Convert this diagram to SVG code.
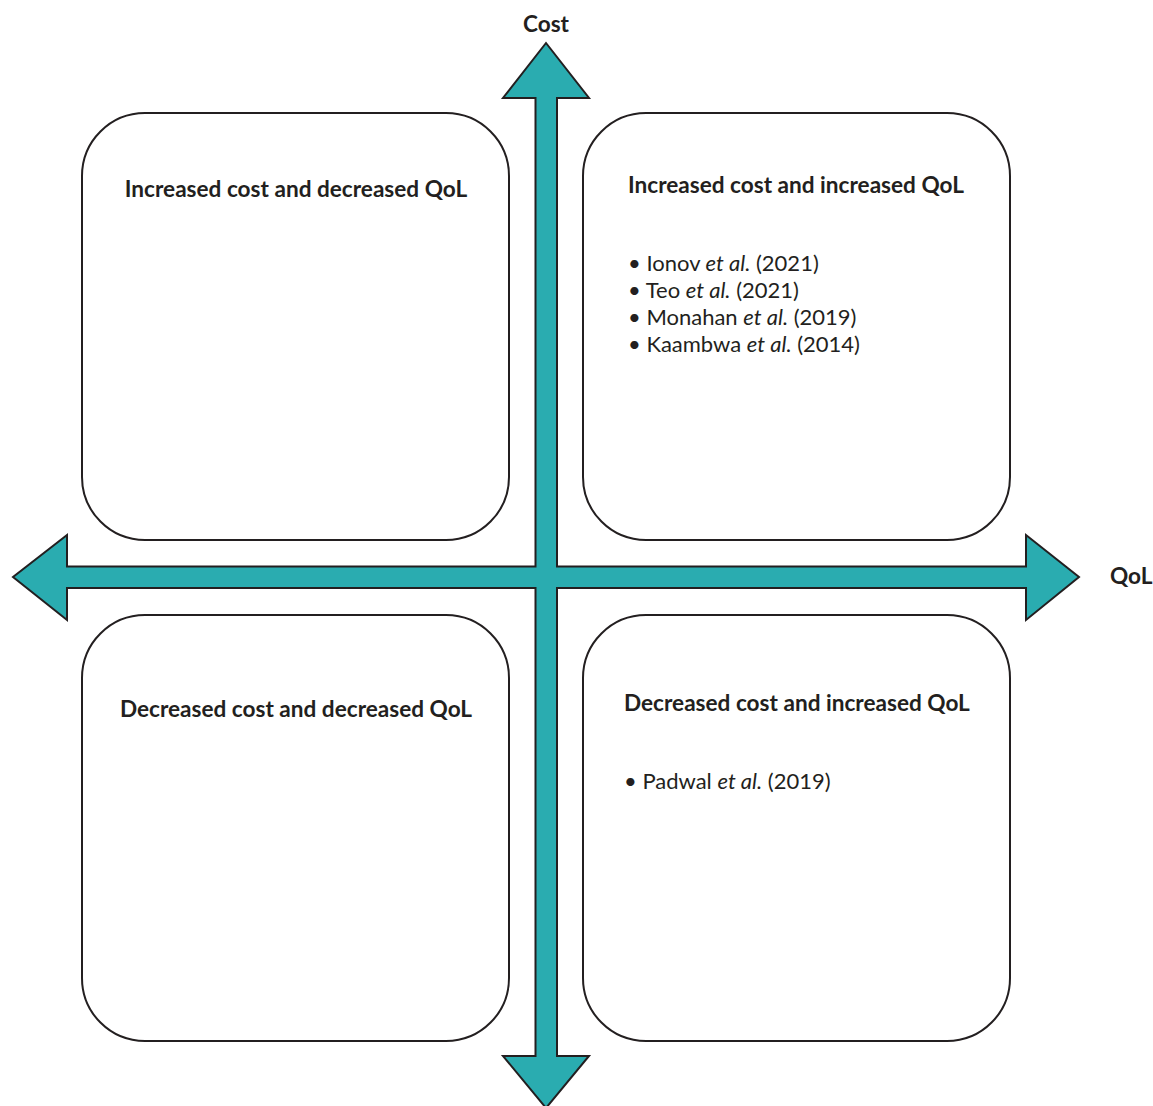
<svg xmlns="http://www.w3.org/2000/svg" width="1153" height="1106" viewBox="0 0 1153 1106">
<style>
.box{fill:#fff;stroke:#231f20;stroke-width:2}
.t{font-family:Lato,"Open Sans","Liberation Sans",sans-serif;fill:#231f20}
.b{font-weight:bold;font-size:22.6px}
.r{font-size:22px}
</style>
<rect width="1153" height="1106" fill="#fff"/>
<g id="box-tl"><rect class="box" x="82" y="113" width="427" height="427" rx="63"/>
<text class="t b" x="296" y="197" text-anchor="middle">Increased cost and decreased QoL</text></g>
<g id="box-tr"><rect class="box" x="583" y="113" width="427" height="427" rx="63"/>
<text class="t b" x="628" y="193">Increased cost and increased QoL</text>
<text class="t r" x="628" y="271">• Ionov <tspan font-style="italic">et al.</tspan> (2021)</text>
<text class="t r" x="628" y="298">• Teo <tspan font-style="italic">et al.</tspan> (2021)</text>
<text class="t r" x="628" y="325">• Monahan <tspan font-style="italic">et al.</tspan> (2019)</text>
<text class="t r" x="628" y="352">• Kaambwa <tspan font-style="italic">et al.</tspan> (2014)</text></g>
<g id="box-bl"><rect class="box" x="82" y="615" width="427" height="426" rx="63"/>
<text class="t b" x="296" y="717" text-anchor="middle">Decreased cost and decreased QoL</text></g>
<g id="box-br"><rect class="box" x="583" y="615" width="427" height="426" rx="63"/>
<text class="t b" x="624" y="711">Decreased cost and increased QoL</text>
<text class="t r" x="624" y="789">• Padwal <tspan font-style="italic">et al.</tspan> (2019)</text></g>
<g id="axes">
<polygon fill="#2aacb0" stroke="#231f20" stroke-width="2" stroke-linejoin="miter" points="546,43 589,98 557,98 557,566.5 1026,566.5 1026,535 1079,577 1026,620 1026,588 557,588 557,1056 589,1056 546,1108 503,1056 535.5,1056 535.5,588 67,588 67,620 13,577 67,535 67,566.5 535.5,566.5 535.5,98 503,98"/>
</g>
<text class="t b" x="546" y="32" text-anchor="middle" font-size="23">Cost</text>
<text class="t b" x="1110" y="584">QoL</text>
</svg>
